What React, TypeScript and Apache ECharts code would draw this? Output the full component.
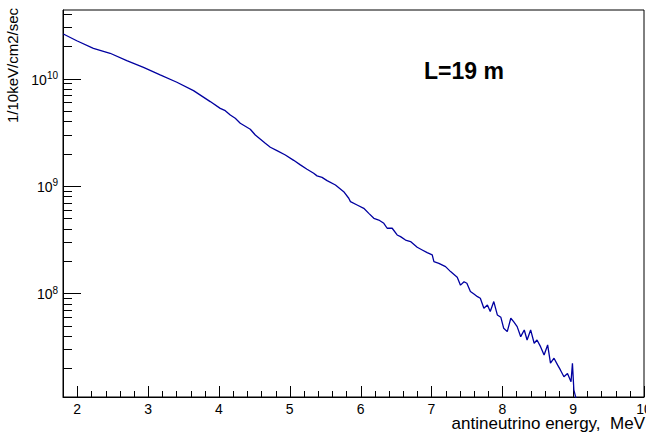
import React, { useEffect, useRef } from "react";
import * as echarts from "echarts";

// antineutrino energy, MeV
const energies = [
  1.805, 1.994, 2.229, 2.465, 2.70, 2.936, 3.171, 3.407, 3.642, 3.878, 4.019,
  4.09, 4.161, 4.231, 4.302, 4.443, 4.514, 4.655, 4.726, 4.82, 4.938, 5.056,
  5.15, 5.244, 5.338, 5.385, 5.456, 5.527, 5.645, 5.762, 5.833, 5.857, 5.951,
  6.045, 6.116, 6.187, 6.257, 6.328, 6.375, 6.446, 6.516, 6.564, 6.634, 6.705,
  6.799, 6.87, 6.94, 7.011, 7.035, 7.105, 7.199, 7.27, 7.364, 7.41, 7.46, 7.5,
  7.55, 7.6, 7.65, 7.69, 7.74, 7.79, 7.83, 7.88, 7.93, 7.98, 8.02, 8.07, 8.12,
  8.16, 8.21, 8.26, 8.31, 8.35, 8.4, 8.45, 8.49, 8.54, 8.59, 8.64, 8.68, 8.73,
  8.78, 8.82, 8.87, 8.92, 8.97, 8.99, 9.01, 9.04,
];
// 1/10keV/cm2/sec
const rates = [
  2.6e10, 2.25e10, 1.91e10, 1.72e10, 1.47e10, 1.27e10, 1.08e10, 9.23e9, 7.71e9,
  6.1e9, 5.27e9, 5.02e9, 4.57e9, 4.26e9, 3.83e9, 3.37e9, 2.98e9, 2.49e9, 2.29e9,
  2.13e9, 1.94e9, 1.73e9, 1.57e9, 1.43e9, 1.31e9, 1.24e9, 1.2e9, 1.12e9, 1.02e9,
  8.83e8, 7.67e8, 7.13e8, 6.64e8, 6.18e8, 5.55e8, 4.99e8, 4.81e8, 4.48e8, 4.03e8,
  4.03e8, 3.49e8, 3.37e8, 3.13e8, 3.03e8, 2.68e8, 2.53e8, 2.39e8, 2.28e8, 1.97e8,
  1.9e8, 1.77e8, 1.59e8, 1.41e8, 1.19e8, 1.28e8, 1.24e8, 1.04e8, 9.84e7, 9.29e7,
  8.97e7, 7.24e7, 7.78e7, 6.75e7, 8.36e7, 6.28e7, 5.97e7, 4.71e7, 4.39e7, 5.85e7,
  5.43e7, 4.89e7, 3.94e7, 4.55e7, 3.67e7, 4.55e7, 3.42e7, 3.67e7, 3.18e7, 2.66e7,
  3.3e7, 2.23e7, 2.48e7, 2.15e7, 1.93e7, 1.67e7, 1.79e7, 1.5e7, 2.23e7, 1.26e7,
  1.05e7,
];

const xMajorTicks = [2, 3, 4, 5, 6, 7, 8, 9, 10];
const yMajorTicks = [1e8, 1e9, 1e10];
const yMinorMantissas = [2, 3, 4, 5, 6, 7, 8, 9];
const yDecades = [1e7, 1e8, 1e9, 1e10];
const xRange = [1.8, 10];
const yRange = [1.08e7, 4.35e10];
const annotation = "L=19 m";
const xTitle = "antineutrino energy,  MeV";
const yTitle = "1/10keV/cm2/sec";

const FONT = "'Liberation Sans', Arial, Helvetica, sans-serif";
const GRID = { left: 63, top: 10, right: 2, bottom: 35 };
const W = 646;
const H = 432;

export default function App() {
  const ref = useRef<HTMLDivElement>(null);

  useEffect(() => {
    if (!ref.current) return;
    const chart = echarts.init(ref.current, undefined, { renderer: "svg" });

    // tick marks, mapped with the library's linear map onto the plot frame
    const x0 = GRID.left;
    const x1 = W - GRID.right;
    const yb = H - GRID.bottom;
    const yt = GRID.top;
    const lin = (echarts as any).number.linearMap;
    const px = (v: number) => lin(v, xRange, [x0, x1], true);
    const py = (v: number) =>
      lin(Math.log10(v), [Math.log10(yRange[0]), Math.log10(yRange[1])], [yb, yt], true);

    const tickLines: any[] = [];
    const addX = (v: number, len: number) => {
      const x = Math.round(px(v)) + 0.5;
      tickLines.push({
        type: "line",
        shape: { x1: x, y1: yb, x2: x, y2: yb - len },
        style: { stroke: "#000000", lineWidth: 1 },
      });
    };
    const addY = (v: number, len: number) => {
      const y = Math.round(py(v)) + 0.5;
      tickLines.push({
        type: "line",
        shape: { x1: x0, y1: y, x2: x0 + len, y2: y },
        style: { stroke: "#000000", lineWidth: 1 },
      });
    };
    xMajorTicks.forEach((v) => addX(v, 11));
    for (let i = 0; i < xMajorTicks.length - 1; i++) {
      for (let k = 1; k < 5; k++) {
        addX(Math.round((xMajorTicks[i] + k * 0.2) * 10) / 10, 6);
      }
    }
    yMajorTicks.forEach((v) => addY(v, 18));
    yDecades.forEach((d) =>
      yMinorMantissas.forEach((m) => {
        const v = m * d;
        if (v > yRange[0] && v < yRange[1]) addY(v, 9);
      })
    );

    const textGraphics: any[] = [
      {
        type: "text",
        x: 424,
        y: 71,
        style: {
          text: annotation,
          fontSize: 23,
          fontWeight: "bold",
          fontFamily: FONT,
          fill: "#000000",
          textAlign: "left",
          textVerticalAlign: "middle",
        },
      },
      {
        type: "text",
        x: 645,
        y: 423,
        style: {
          text: xTitle,
          fontSize: 17,
          lineHeight: 13,
          fontFamily: FONT,
          fill: "#000000",
          textAlign: "right",
          textVerticalAlign: "middle",
        },
      },
      {
        type: "text",
        x: 12,
        y: 8,
        rotation: Math.PI / 2,
        style: {
          text: yTitle,
          fontSize: 15,
          fontFamily: FONT,
          fill: "#000000",
          textAlign: "right",
          textVerticalAlign: "middle",
        },
      },
    ];

    chart.setOption({
      animation: false,
      backgroundColor: "#ffffff",
      grid: {
        ...GRID,
        outerBoundsMode: "none",
        show: true,
        borderColor: "#000000",
        borderWidth: 1,
      },
      xAxis: {
        type: "value",
        min: xRange[0],
        max: xRange[1],
        position: "bottom",
        splitLine: { show: false },
        axisLine: { show: true, lineStyle: { color: "#000000", width: 1 } },
        axisTick: { show: false },
        axisLabel: {
          show: true,
          customValues: xMajorTicks,
          fontSize: 14,
          lineHeight: 14,
          fontFamily: FONT,
          color: "#000000",
          margin: 5,
          hideOverlap: false,
        },
      },
      yAxis: {
        type: "log",
        logBase: 10,
        min: yRange[0],
        max: yRange[1],
        position: "left",
        splitLine: { show: false },
        axisLine: { show: true, lineStyle: { color: "#000000", width: 1 } },
        axisTick: { show: false },
        axisLabel: {
          show: true,
          customValues: yMajorTicks,
          margin: 5,
          formatter: (v: number) => `{b|10}{s|${Math.round(Math.log10(v))}}`,
          rich: {
            b: {
              fontSize: 14,
              fontFamily: FONT,
              color: "#000000",
              lineHeight: 16,
              verticalAlign: "bottom",
            },
            s: {
              fontSize: 10,
              fontFamily: FONT,
              color: "#000000",
              lineHeight: 16,
              verticalAlign: "bottom",
              padding: [0, 0, 6, 0],
            },
          },
        },
      },
      series: [
        {
          type: "line",
          data: energies.map((e, i) => [e, rates[i]]),
          showSymbol: false,
          symbol: "none",
          clip: true,
          lineStyle: { color: "#0000a0", width: 1.3 },
        },
      ],
      graphic: [...textGraphics, ...tickLines],
    });

    return () => chart.dispose();
  }, []);

  return (
    <div
      ref={ref}
      style={{ position: "fixed", left: 0, top: 0, width: W, height: H }}
    />
  );
}
